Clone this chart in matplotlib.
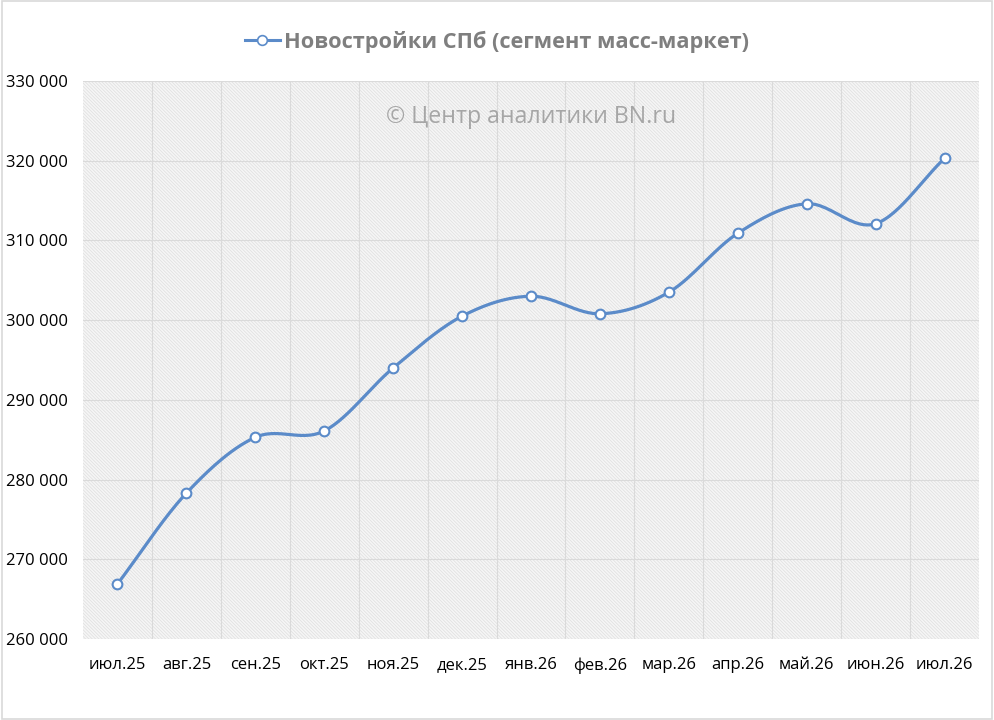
import numpy as np
import matplotlib.pyplot as plt
from matplotlib.patches import Rectangle
from matplotlib.ticker import FuncFormatter, MultipleLocator

plt.rcParams['font.family'] = ['Open Sans', 'DejaVu Sans']
plt.rcParams['hatch.linewidth'] = 0.5
plt.rcParams['hatch.color'] = '#dedede'

months = ['июл.25', 'авг.25', 'сен.25', 'окт.25', 'ноя.25', 'дек.25', 'янв.26',
          'фев.26', 'мар.26', 'апр.26', 'май.26', 'июн.26', 'июл.26']
prices = [266900, 278300, 285300, 286100, 294000, 300500, 303000,
          300800, 303500, 310900, 314600, 312100, 320300]
series_name = 'Новостройки СПб (сегмент масс-маркет)'
watermark = '© Центр аналитики BN.ru'

blue = '#5b8bc9'


def smooth(x, y, n=30):
    # catmull-rom style smoothing, like excel's "smoothed line"
    x = np.asarray(x, float)
    y = np.asarray(y, float)
    px = np.concatenate([[2 * x[0] - x[1]], x, [2 * x[-1] - x[-2]]])
    py = np.concatenate([[2 * y[0] - y[1]], y, [2 * y[-1] - y[-2]]])
    xs, ys = [], []
    t = np.linspace(0, 1, n)
    for i in range(1, len(px) - 2):
        for p, out in ((px, xs), (py, ys)):
            p0, p1, p2, p3 = p[i - 1], p[i], p[i + 1], p[i + 2]
            out.extend(0.5 * (2 * p1 + (-p0 + p2) * t
                              + (2 * p0 - 5 * p1 + 4 * p2 - p3) * t ** 2
                              + (-p0 + 3 * p1 - 3 * p2 + p3) * t ** 3))
    return np.array(xs), np.array(ys)


fig = plt.figure(figsize=(9.94, 7.2), dpi=100)
ax = fig.add_axes([83 / 994, 81 / 720, (979 - 83) / 994, (639 - 81) / 720])

x = np.arange(len(months))
ax.set_xlim(-0.5, len(months) - 0.5)
ax.set_ylim(260000, 330000)

# hatched plot area
ax.add_patch(Rectangle((0, 0), 1, 1, transform=ax.transAxes, facecolor='#f6f6f6',
                       hatch='\\' * 10, edgecolor='#dedede', linewidth=0, zorder=0))

ax.yaxis.set_major_locator(MultipleLocator(10000))
ax.yaxis.set_major_formatter(FuncFormatter(lambda v, p: f'{int(v):,}'.replace(',', ' ')))
ax.set_xticks(x)
ax.set_xticklabels(months)
ax.set_xticks(np.arange(0.5, len(months) - 0.5), minor=True)
ax.grid(True, which='major', axis='y', color='#dadada', linewidth=0.8)
ax.grid(True, which='minor', axis='x', color='#dadada', linewidth=0.8)
ax.set_axisbelow(True)
ax.tick_params(which='both', length=0)
ax.tick_params(axis='x', pad=13, labelsize=12)
ax.tick_params(axis='y', pad=11, labelsize=12)
for s in ax.spines.values():
    s.set_visible(False)

sx, sy = smooth(x, prices)
ax.plot(sx, sy, color=blue, linewidth=2.3, zorder=3)
ax.plot(x, prices, linestyle='none', marker='o', markersize=7, markerfacecolor='white',
        markeredgecolor=blue, markeredgewidth=1.5, zorder=4)

ax.text(0.5, 0.935, watermark, transform=ax.transAxes, ha='center', va='center',
        fontsize=16.7, color='#a6a6a6')

handle, = ax.plot([], [], color=blue, linewidth=2.2, marker='o', markersize=7,
                  markerfacecolor='white', markeredgecolor=blue, markeredgewidth=1.2)
leg = fig.legend([handle], [series_name], loc='center', bbox_to_anchor=(0.5, 1 - 42 / 720),
                 frameon=False, handlelength=1.6, handletextpad=0.2,
                 prop={'size': 15.7, 'weight': 'bold'})
for t in leg.get_texts():
    t.set_color('#7f7f7f')

fig.patches.append(Rectangle((0.002, 0.002), 0.996, 0.996, transform=fig.transFigure,
                             fill=False, edgecolor='#d9d9d9', linewidth=1.2))

fig.savefig('out.png', dpi=100, facecolor='white')
